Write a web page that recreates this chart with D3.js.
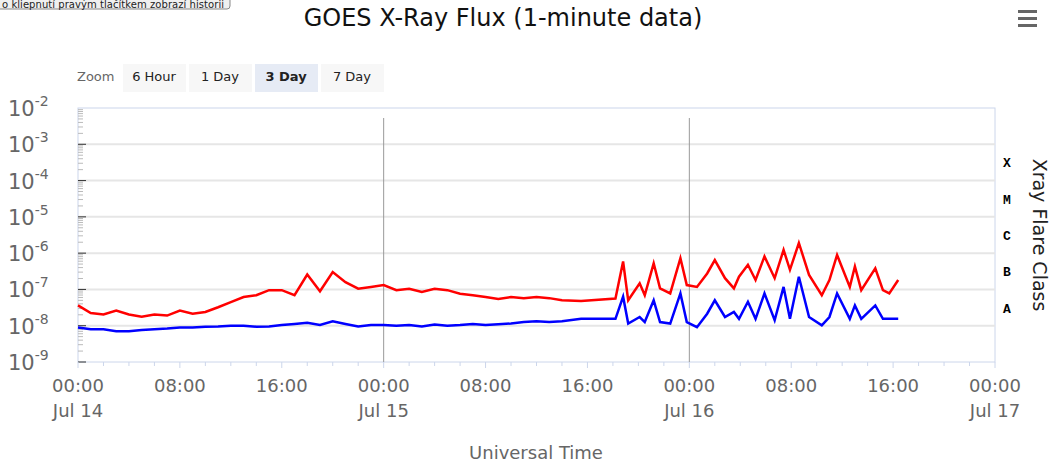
<!DOCTYPE html>
<html><head><meta charset="utf-8">
<script src="https://cdn.jsdelivr.net/npm/d3@7"></script>
<style>body{margin:0;background:#fff;font-family:"DejaVu Sans",sans-serif}</style>
</head><body><svg id="c" width="1063" height="472"></svg>
<script>
// hours since Jul 14 00:00 UTC
var hours = [0,1,2,3,4,5,6,7,8,9,10,11,12,13,14,15,16,17,18,19,20,21,22,23,24,25,26,27,28,29,30,31,32,33,34,35,36,37,38,
  39.5,42.2,42.8,43.2,44.1,44.5,45.2,45.7,46.5,47.3,47.8,48.6,49.4,50.0,50.8,51.5,51.9,52.6,53.2,53.9,54.7,55.4,55.9,
  56.6,57.4,58.4,59.0,59.6,60.6,61.0,61.5,62.6,63.2,63.7,64.4];
// log10 flux (W/m2), 0.1-0.8 nm
var longLog = [-7.44,-7.65,-7.69,-7.58,-7.69,-7.75,-7.69,-7.72,-7.58,-7.67,-7.62,-7.49,-7.35,-7.21,-7.16,-7.02,
  -7.02,-7.16,-6.59,-7.05,-6.52,-6.8,-6.98,-6.93,-6.88,-7.02,-6.98,-7.07,-6.98,-7.02,-7.12,-7.16,-7.21,-7.26,-7.21,
  -7.24,-7.21,-7.24,-7.3,
  -7.32,-7.25,-6.23,-7.30,-6.83,-7.16,-6.28,-6.97,-7.11,-6.14,-6.88,-6.93,-6.56,-6.19,-6.69,-6.97,-6.65,-6.32,-6.74,
  -6.09,-6.69,-5.91,-6.46,-5.72,-6.60,-7.16,-6.74,-6.05,-6.93,-6.37,-7.02,-6.42,-7.02,-7.11,-6.74];
// log10 flux (W/m2), 0.05-0.4 nm
var shortLog = [-8.05,-8.1,-8.1,-8.15,-8.15,-8.12,-8.1,-8.08,-8.05,-8.05,-8.03,-8.02,-8.0,-8.0,-8.03,-8.02,
  -7.98,-7.95,-7.92,-7.98,-7.88,-7.95,-8.02,-7.98,-7.98,-8.0,-7.98,-8.02,-7.97,-8.0,-7.98,-7.95,-7.98,-7.96,-7.94,
  -7.9,-7.88,-7.9,-7.88,
  -7.81,-7.81,-7.20,-7.94,-7.76,-7.90,-7.30,-7.90,-7.94,-7.11,-7.90,-8.04,-7.67,-7.30,-7.76,-7.62,-7.81,-7.34,-7.81,
  -7.11,-7.85,-6.93,-7.81,-6.65,-7.76,-7.99,-7.76,-7.11,-7.81,-7.44,-7.81,-7.44,-7.81,-7.81,-7.81];
var yTickExp = [-2,-3,-4,-5,-6,-7,-8,-9];
var flareClasses = [["X",-3.5],["M",-4.5],["C",-5.5],["B",-6.5],["A",-7.5]];
var zoomButtons = ["6 Hour","1 Day","3 Day","7 Day"];
var dayLabels = ["Jul 14","Jul 15","Jul 16","Jul 17"];

var svg = d3.select("#c");
var t0 = Date.UTC(2024,6,14);
var x = d3.scaleUtc().domain([t0, t0 + 72*3600e3]).range([78, 995]);
var y = d3.scaleLinear().domain([-9,-2]).range([362, 108]);

// plot frame + grid
svg.append("rect").attr("x",78).attr("y",108).attr("width",917).attr("height",254)
  .attr("fill","none").attr("stroke","#ccd6eb");
svg.selectAll(".grid").data(yTickExp.slice(1,7)).enter().append("line")
  .attr("x1",78).attr("x2",995).attr("y1",d=>y(d)).attr("y2",d=>y(d))
  .attr("stroke","#e6e6e6").attr("stroke-width",2);
[1,2].forEach(function(d){
  svg.append("line").attr("x1",x(t0+d*864e5)).attr("x2",x(t0+d*864e5))
    .attr("y1",118).attr("y2",362).attr("stroke","#999");
});

// left axis minor ticks
var minor = [];
yTickExp.slice(1).forEach(function(e){ for(var k=1;k<10;k++) minor.push(e+Math.log10(k)); });
svg.selectAll(".ymin").data(minor).enter().append("line")
  .attr("x1",78).attr("x2",d=>Math.abs(d-Math.round(d))<1e-6?86:83)
  .attr("y1",d=>y(d)).attr("y2",d=>y(d)).attr("stroke",d=>Math.abs(d-Math.round(d))<1e-6?"#333":"#bbb");
svg.selectAll(".ylab").data(yTickExp).enter().append("text")
  .attr("x",8).attr("y",d=>y(d)+8).attr("fill","#666").attr("font-size",21)
  .html(d=>"10<tspan dy='-10' font-size='14'>"+d+"</tspan>");

// x ticks
var xt = d3.range(0,73,2);
svg.selectAll(".xt").data(xt).enter().append("line")
  .attr("x1",d=>x(t0+d*36e5)).attr("x2",d=>x(t0+d*36e5))
  .attr("y1",362).attr("y2",d=>d%8===0?368:366).attr("stroke","#ccd6eb");
var fmt = d3.utcFormat("%H:%M");
svg.selectAll(".xl").data(d3.range(0,73,8)).enter().append("text")
  .attr("x",d=>x(t0+d*36e5)).attr("y",392).attr("text-anchor","middle")
  .attr("fill","#666").attr("font-size",18).text(d=>fmt(new Date(t0+d*36e5)));
svg.selectAll(".dl").data(dayLabels).enter().append("text")
  .attr("x",(d,i)=>x(t0+i*864e5)).attr("y",417).attr("text-anchor","middle")
  .attr("fill","#666").attr("font-size",18).text(d=>d);
svg.append("text").attr("x",536).attr("y",459).attr("text-anchor","middle")
  .attr("fill","#666").attr("font-size",18).text("Universal Time");

// series
var line = d3.line().x((d,i)=>x(t0+hours[i]*36e5)).y(d=>y(d));
svg.append("path").datum(shortLog).attr("d",line).attr("fill","none").attr("stroke","#0000ff").attr("stroke-width",2.5);
svg.append("path").datum(longLog).attr("d",line).attr("fill","none").attr("stroke","#ff0000").attr("stroke-width",2.5);

// right flare classes
svg.selectAll(".fc").data(flareClasses).enter().append("text")
  .attr("x",1007).attr("y",d=>y(d[1])+5).attr("text-anchor","middle")
  .attr("font-family","'Liberation Mono',monospace").attr("font-weight","bold").attr("font-size",13)
  .text(d=>d[0]);
svg.append("text").attr("transform","translate(1033,235) rotate(90)").attr("text-anchor","middle")
  .attr("font-size",19).attr("fill","#222").text("Xray Flare Class");

// title, menu
svg.append("text").attr("x",503).attr("y",26).attr("text-anchor","middle").attr("font-size",24)
  .attr("fill","#111").text("GOES X-Ray Flux (1-minute data)");
[10,17,24].forEach(function(d){
  svg.append("rect").attr("x",1018).attr("y",d).attr("width",19).attr("height",3).attr("fill","#666");
});

// tooltip remnant
svg.append("rect").attr("x",-10).attr("y",-12).attr("width",240).attr("height",21).attr("rx",3)
  .attr("fill","#f0f0f0").attr("stroke","#888");
svg.append("text").attr("x",2).attr("y",8).attr("font-size",10).attr("fill","#222")
  .attr("textLength",222).text("o kliepnutí pravým tlačítkem zobrazí historii");

// zoom buttons
svg.append("text").attr("x",77).attr("y",81).attr("font-size",13).attr("fill","#666").text("Zoom");
var bx = [123,189,255,321];
zoomButtons.forEach(function(b,i){
  svg.append("rect").attr("x",bx[i]).attr("y",64).attr("width",63).attr("height",28)
    .attr("fill",i===2?"#e6ebf5":"#f7f7f7");
  svg.append("text").attr("x",bx[i]+31).attr("y",81).attr("text-anchor","middle").attr("font-size",13)
    .attr("font-weight",i===2?"bold":"normal").attr("fill","#222").text(b);
});
</script></body></html>
